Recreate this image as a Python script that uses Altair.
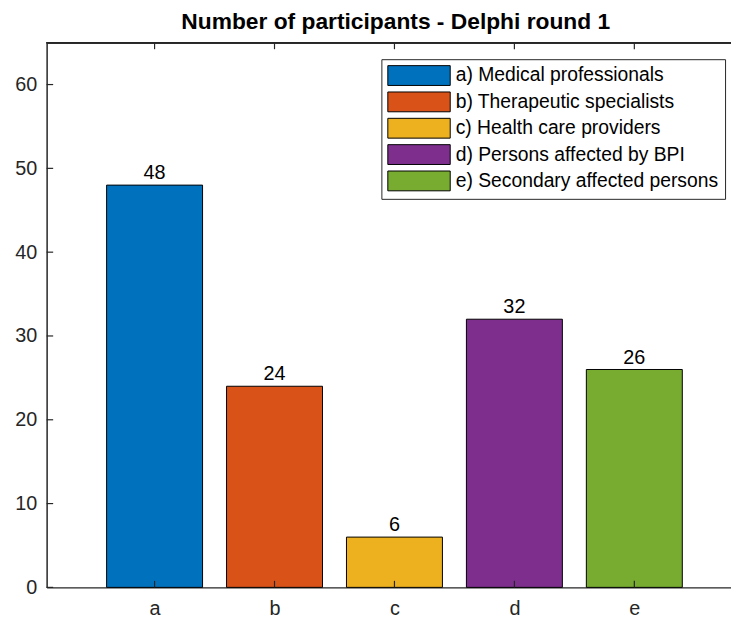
import altair as alt
import pandas as pd

letters = ["a", "b", "c", "d", "e"]
groups = [
    "a) Medical professionals",
    "b) Therapeutic specialists",
    "c) Health care providers",
    "d) Persons affected by BPI",
    "e) Secondary affected persons",
]
values = [48, 24, 6, 32, 26]
colors = ["#0072BD", "#D95319", "#EDB120", "#7E2F8E", "#77AC30"]
y_ticks = [0, 10, 20, 30, 40, 50, 60]

positions = [1, 2, 3, 4, 5]
half = 0.4
df = pd.DataFrame({
    "pos": positions,
    "lo": [p - half for p in positions],
    "hi": [p + half for p in positions],
    "letter": letters,
    "group": groups,
    "value": values,
})
ticks_df = pd.DataFrame({"t": y_ticks})

W, H = 691, 550
FONT = "Liberation Sans"
AX = "#262626"
xdom = [0.1, 5.806]
ydom = [0, 65]

label_expr = "{1:'a',2:'b',3:'c',4:'d',5:'e'}[datum.value]"

xscale = alt.Scale(domain=xdom, nice=False, zero=False)
yscale = alt.Scale(domain=ydom, nice=False)

bars = alt.Chart(df).mark_bar(stroke="black", strokeWidth=1).encode(
    x=alt.X("lo:Q", scale=xscale,
            axis=alt.Axis(values=positions, labelExpr=label_expr, title=None,
                          grid=False, ticks=False, labelPadding=11,
                          labelFontSize=20, labelFont=FONT, labelColor=AX,
                          domainColor=AX, domainWidth=1.5)),
    x2="hi:Q",
    y=alt.Y("value:Q", scale=yscale,
            axis=alt.Axis(values=y_ticks, title=None, grid=False, ticks=False,
                          labelPadding=10, labelFontSize=20, labelFont=FONT,
                          labelColor=AX, domainColor=AX, domainWidth=1.5)),
    y2=alt.datum(0),
    color=alt.Color("group:N",
                    scale=alt.Scale(domain=groups, range=colors),
                    legend=alt.Legend(
                        title=None, orient="none", legendX=338, legendY=16.7,
                        fillColor="white", strokeColor=AX, padding=6,
                        symbolType="M-1,-1H5.3V1H-1Z",
                        symbolSize=400, symbolStrokeColor="black",
                        symbolStrokeWidth=1, symbolOpacity=1,
                        labelOffset=48, labelFontSize=19.5, labelFont=FONT,
                        labelColor="black", rowPadding=1.6, labelLimit=400)),
)

texts = alt.Chart(df).mark_text(baseline="alphabetic", dy=-6, fontSize=20,
                                font=FONT, color="black").encode(
    x=alt.X("pos:Q", scale=xscale),
    y=alt.Y("value:Q", scale=yscale),
    text="value:Q",
)

yt = alt.Chart(ticks_df).mark_rule(color=AX, strokeWidth=1.2).encode(
    y=alt.Y("t:Q", scale=yscale), x=alt.value(0), x2=alt.value(6.6))

xt_bottom = alt.Chart(df).mark_rule(color=AX, strokeWidth=1.2).encode(
    x=alt.X("pos:Q", scale=xscale), y=alt.value(H), y2=alt.value(H - 6.6))

xt_top = alt.Chart(df).mark_rule(color=AX, strokeWidth=1.2).encode(
    x=alt.X("pos:Q", scale=xscale), y=alt.value(0), y2=alt.value(6.6))

top_border = alt.Chart(df).mark_rule(color=AX, strokeWidth=1.5).encode(
    x=alt.value(0), x2=alt.value(W), y=alt.value(0))

chart = alt.layer(bars, texts, yt, xt_bottom, xt_top, top_border).properties(
    width=W, height=H,
    title=alt.TitleParams("Number of participants - Delphi round 1",
                          font=FONT, fontSize=23, fontWeight="bold",
                          color="black", anchor="middle", dx=7, offset=8),
    autosize=alt.AutoSizeParams(type="none"),
    padding={"left": 39, "top": 32, "right": 0, "bottom": 36},
).configure_view(stroke=None)

chart.save("out.html", embed_options={"renderer": "svg", "actions": False})
